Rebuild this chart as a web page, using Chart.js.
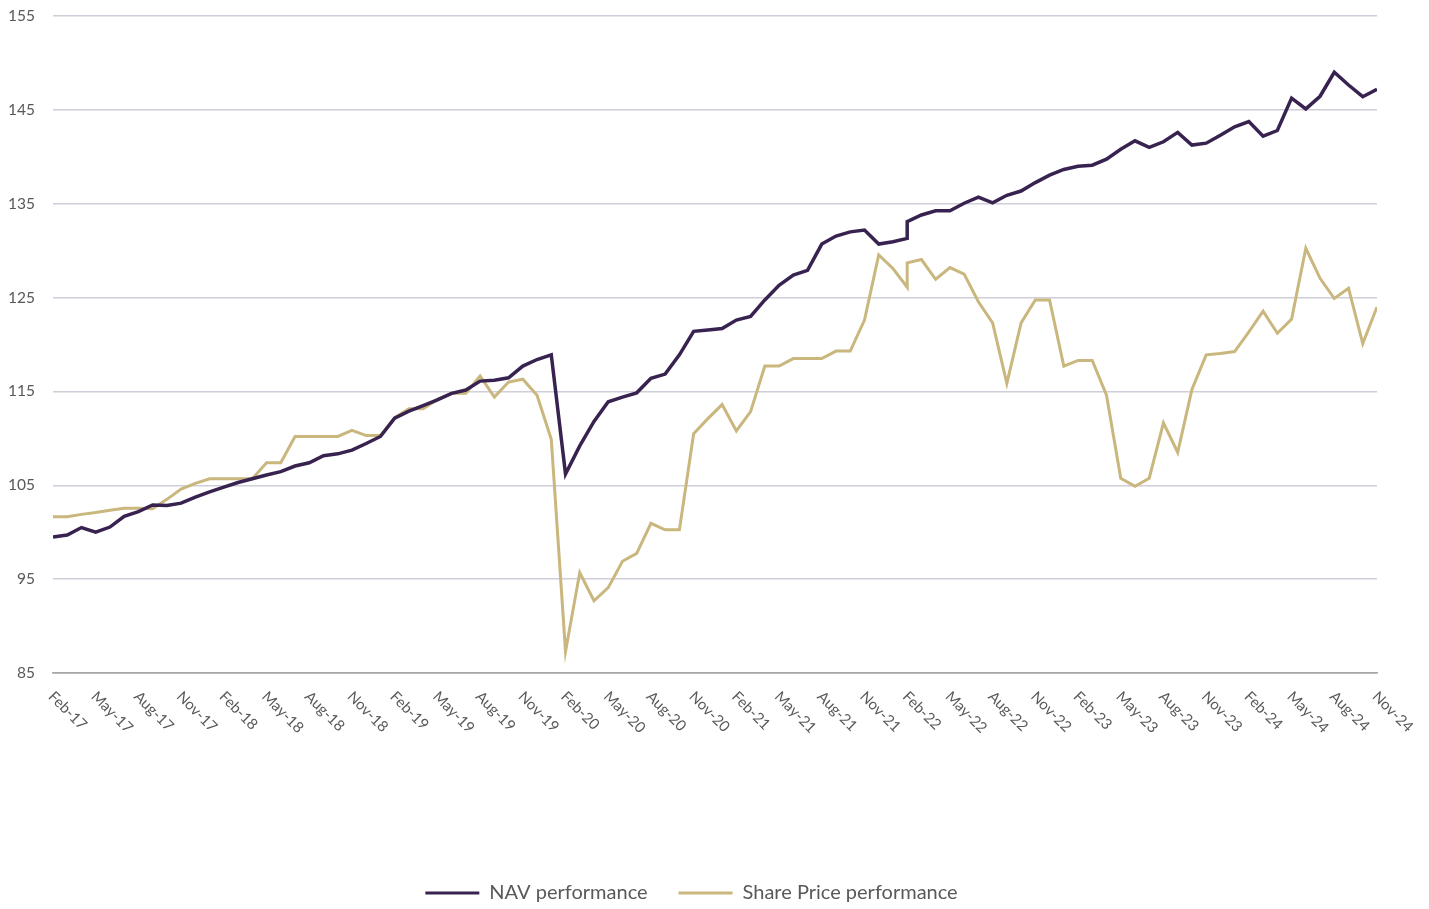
<!DOCTYPE html>
<html>
<head>
<meta charset="utf-8">
<script src="https://cdn.jsdelivr.net/npm/chart.js@4.4.1/dist/chart.umd.min.js"></script>
<style>
html,body{margin:0;padding:0;background:#ffffff;}
#wrap{width:1429px;height:909px;position:relative;}
</style>
</head>
<body>
<div id="wrap"><canvas id="c"></canvas></div>
<script>
// Month offsets from Feb-17 (two observations fall on Feb-22)
const monthIndex = [0,1,2,3,4,5,6,7,8,9,10,11,12,13,14,15,16,17,18,19,20,21,22,23,24,25,26,27,28,29,
  30,31,32,33,34,35,36,37,38,39,40,41,42,43,44,45,46,47,48,49,50,51,52,53,54,55,56,57,58,59,60,60,
  61,62,63,64,65,66,67,68,69,70,71,72,73,74,75,76,77,78,79,80,81,82,83,84,85,86,87,88,89,90,91,92,93];

const navPerformance = [99.5,99.7,100.5,100.0,100.55,101.7,102.2,102.9,102.85,103.1,103.75,104.3,104.8,105.3,105.7,
  106.1,106.45,107.05,107.4,108.15,108.35,108.75,109.45,110.2,112.15,112.9,113.5,114.1,114.8,115.15,
  116.1,116.2,116.45,117.7,118.4,118.9,106.2,109.2,111.8,113.9,114.4,114.85,116.4,116.85,118.9,
  121.4,121.55,121.7,122.6,123.0,124.75,126.3,127.4,127.9,130.7,131.55,132.0,132.2,130.7,130.95,131.3,133.1,
  133.8,134.25,134.25,135.05,135.7,135.1,135.9,136.35,137.25,138.05,138.65,139.0,139.1,139.75,140.8,
  141.7,141.0,141.6,142.6,141.25,141.45,142.3,143.2,143.75,142.2,142.8,146.25,145.1,146.45,149.0,147.65,146.4,147.2];

const sharePricePerformance = [101.65,101.65,101.9,102.1,102.35,102.55,102.55,102.5,103.5,104.6,105.2,105.7,105.7,105.7,105.7,
  107.4,107.4,110.2,110.2,110.2,110.2,110.85,110.3,110.3,112.2,113.15,113.15,114.15,114.8,114.8,
  116.65,114.4,116.0,116.3,114.6,109.9,87.3,95.7,92.7,94.1,96.9,97.75,100.95,100.25,100.25,
  110.5,112.1,113.6,110.8,112.85,117.7,117.7,118.5,118.5,118.5,119.3,119.3,122.6,129.55,128.1,126.1,128.7,
  129.05,126.95,128.2,127.5,124.55,122.3,115.85,122.3,124.75,124.75,117.7,118.3,118.3,114.6,105.75,
  104.9,105.75,111.65,108.5,115.2,118.9,119.05,119.25,121.35,123.55,121.2,122.7,130.25,127.05,124.9,126.0,120.1,124.0];

const tickLabels = ['Feb-17','May-17','Aug-17','Nov-17','Feb-18','May-18','Aug-18','Nov-18',
  'Feb-19','May-19','Aug-19','Nov-19','Feb-20','May-20','Aug-20','Nov-20',
  'Feb-21','May-21','Aug-21','Nov-21','Feb-22','May-22','Aug-22','Nov-22',
  'Feb-23','May-23','Aug-23','Nov-23','Feb-24','May-24','Aug-24','Nov-24'];
const tickStepMonths = 3;

const seriesNames = ['NAV performance','Share Price performance'];
const navColor = '#382350';
const shareColor = '#c9b77e';
const textColor = '#595959';

const toPoints = (vals) => vals.map((v, i) => ({x: monthIndex[i], y: v}));

const xLabelPlugin = {
  id: 'xLabels',
  afterDraw(chart) {
    const {ctx, chartArea} = chart;
    const xs = chart.scales.x;
    ctx.save();
    ctx.font = '15px Lato';
    ctx.fillStyle = textColor;
    ctx.textAlign = 'left';
    ctx.textBaseline = 'middle';
    tickLabels.forEach((t, i) => {
      const px = xs.getPixelForValue(i * tickStepMonths);
      ctx.save();
      ctx.translate(px - 2, chartArea.bottom + 21);
      ctx.rotate(Math.PI / 4);
      ctx.fillText(t, 0, 0);
      ctx.restore();
    });
    ctx.restore();
  }
};

const legendFont = 20;
const legendPad = 31;

new Chart(document.getElementById('c'), {
  type: 'line',
  data: {
    datasets: [
      {label: seriesNames[0], data: toPoints(navPerformance), borderColor: navColor, backgroundColor: navColor,
       borderWidth: 3.5, pointRadius: 0, tension: 0},
      {label: seriesNames[1], data: toPoints(sharePricePerformance), borderColor: shareColor, backgroundColor: shareColor,
       borderWidth: 3, pointRadius: 0, tension: 0}
    ]
  },
  options: {
    responsive: true,
    maintainAspectRatio: false,
    animation: false,
    layout: {padding: {left: 6, right: 52, top: 16, bottom: -4}},
    plugins: {
      tooltip: {enabled: false},
      legend: {
        position: 'bottom',
        align: 'center',
        labels: {
          boxWidth: 54,
          boxHeight: 3,
          padding: legendPad,
          color: textColor,
          font: {family: 'Lato', size: legendFont},
          generateLabels: (chart) => Chart.defaults.plugins.legend.labels.generateLabels(chart)
            .map(l => Object.assign(l, {lineWidth: 0}))
        }
      }
    },
    scales: {
      x: {
        type: 'linear',
        min: 0,
        max: 93,
        grid: {display: false},
        border: {display: true, color: '#a6a6a6', width: 1.5},
        ticks: {display: false},
        afterFit: (s) => { s.height = 240 - (legendFont + legendPad + 10); }
      },
      y: {
        min: 85,
        max: 155,
        ticks: {stepSize: 10, color: textColor, font: {family: 'Lato', size: 15.5}, padding: 18},
        grid: {color: (c) => c.tick && c.tick.value === 85 ? '#a6a6a6' : '#d0ced9', lineWidth: 1.5, drawTicks: false},
        border: {display: false},
        afterFit: (s) => { s.width = 47; s.paddingTop = 0; s.paddingBottom = 0; }
      }
    }
  },
  plugins: [xLabelPlugin]
});
</script>
</body>
</html>
